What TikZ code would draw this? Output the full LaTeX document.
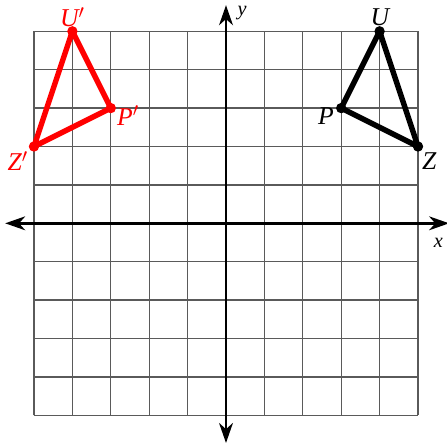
\documentclass[tikz,border=0pt]{standalone}
\usepackage{fontspec}
\setmainfont{Liberation Serif}
\usetikzlibrary{arrows.meta,positioning}
\tikzset{
  gridline/.style={draw={rgb,255:red,90;green,90;blue,90}, line width=1pt},
  axis/.style={{Stealth[length=5.2mm,width=3.6mm,inset=1.6mm]}-{Stealth[length=5.2mm,width=3.6mm,inset=1.6mm]}, line width=1.9pt},
  tri/.style={line width=4pt, line join=round},
  dot/.style={circle, inner sep=0pt, minimum size=2.7mm},
  vlabel/.style={font=\fontsize{19}{21}\selectfont\itshape, inner sep=0pt},
  alabel/.style={font=\fontsize{15}{17}\selectfont\itshape, inner sep=0pt},
}
\begin{document}
\begin{tikzpicture}
\useasboundingbox (-5.885,-5.773) rectangle (5.755,5.815);

% grid
\draw[gridline] (-5,-5) grid (5,5);

% axes
\coordinate (xl) at (-5.75,0);
\coordinate (xr) at (5.81,0);
\coordinate (yb) at (0,-5.72);
\coordinate (yt) at (0,5.68);
\draw[axis] (xl) -- (xr);
\draw[axis] (yb) -- (yt);
\node[alabel] (xlab) at (5.53,-0.5) {x};
\node[alabel] (ylab) at (0.42,5.47) {y};

% original triangle
\node[dot, fill=black] (U) at (4,5) {};
\node[dot, fill=black] (P) at (3,3) {};
\node[dot, fill=black] (Z) at (5,2) {};
\draw[tri, black] (U.center) -- (P.center) -- (Z.center) -- cycle;
\node[vlabel] at (4.01,5.37) {U};
\node[vlabel] at (2.6,2.8) {P};
\node[vlabel] at (5.29,1.63) {Z};

% image triangle
\node[dot, fill=red] (U') at (-4,5) {};
\node[dot, fill=red] (P') at (-3,3) {};
\node[dot, fill=red] (Z') at (-5,2) {};
\draw[tri, red] (U'.center) -- (P'.center) -- (Z'.center) -- cycle;
\node[vlabel, text=red] at (-4.0,5.37) {U$'$};
\node[vlabel, text=red] at (-2.55,2.8) {P$'$};
\node[vlabel, text=red] at (-5.42,1.62) {Z$'$};

\end{tikzpicture}
\end{document}
